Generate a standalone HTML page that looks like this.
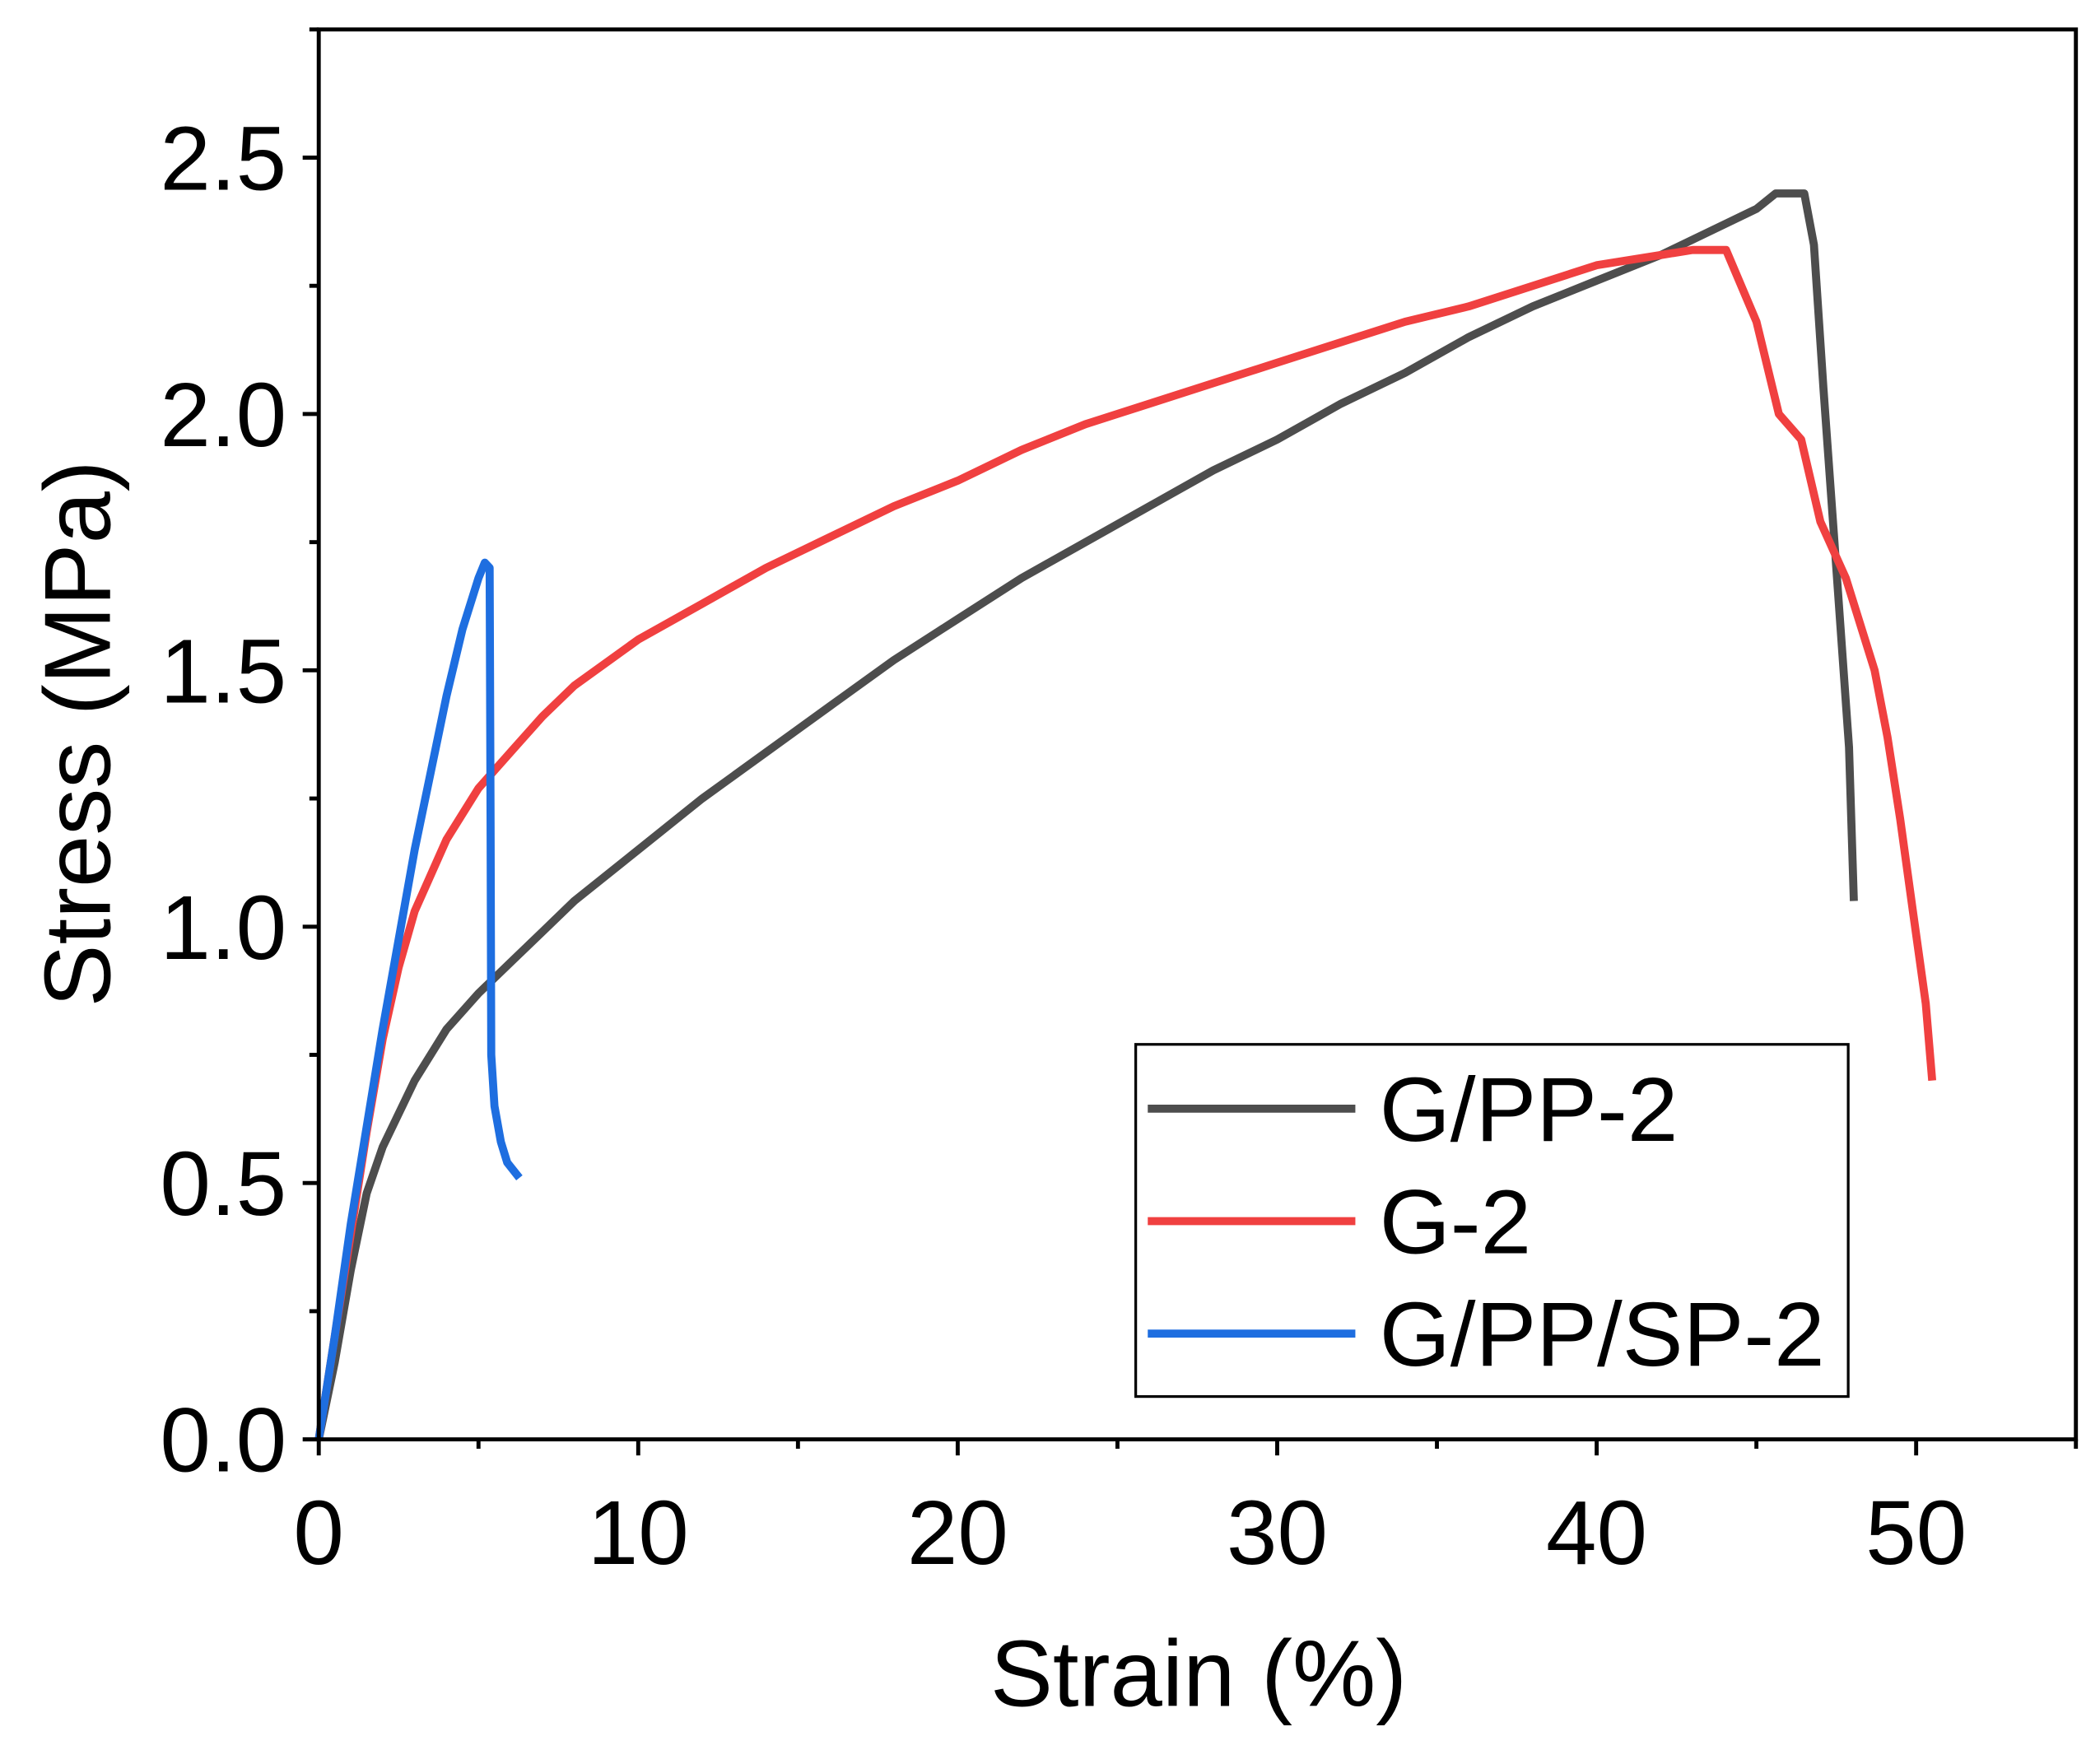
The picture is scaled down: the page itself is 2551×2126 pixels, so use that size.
<!DOCTYPE html>
<html><head><meta charset="utf-8"><style>
html,body{margin:0;padding:0;background:#fff;}
svg{display:block;font-family:"Liberation Sans",Arial,sans-serif;}
</style></head><body>
<svg id="chart" width="2551" height="2126" viewBox="0 0 1568 1307" preserveAspectRatio="none" xmlns="http://www.w3.org/2000/svg">
<g id="series"></g>
<g id="axes"></g>
<g>
<rect x="848" y="780" width="532" height="263" fill="#fff" stroke="#000" stroke-width="2"/>
<line x1="857" y1="828" x2="1012" y2="828" stroke="#4d4d4d" stroke-width="6"/>
<text x="1030" y="852" font-size="68">G/PP-2</text>
<line x1="857" y1="912" x2="1012" y2="912" stroke="#f04040" stroke-width="6"/>
<text x="1030" y="936" font-size="68">G-2</text>
<line x1="857" y1="996" x2="1012" y2="996" stroke="#1e6ee0" stroke-width="6"/>
<text x="1030" y="1020" font-size="68">G/PP/SP-2</text>
</g>
<text x="895" y="1274" font-size="70" text-anchor="middle">Strain (%)</text>
<text transform="translate(82,548) rotate(-90)" font-size="70" text-anchor="middle">Stress (MPa)</text>
</svg>
<script>
const gppX=[0,0.5,1,1.5,2,3,4,5,6,7,8,10,12,14,16,18,20,22,24,26,28,30,32,34,36,38,40,42,44,45,45.6,46.5,46.8,47.1,47.5,47.9,48.05];
const gppY=[0,0.15,0.33,0.48,0.57,0.7,0.8,0.87,0.93,0.99,1.05,1.15,1.25,1.34,1.43,1.52,1.6,1.68,1.75,1.82,1.89,1.95,2.02,2.08,2.15,2.21,2.26,2.31,2.37,2.4,2.43,2.43,2.33,2.05,1.7,1.35,1.05];
const g2X=[0,0.5,1,1.5,2,2.5,3,4,5,6,7,8,10,12,14,16,18,20,22,24,26,28,30,32,34,36,38,40,42,43,44.05,45.0,45.7,46.4,47.0,47.8,48.7,49.1,49.5,49.9,50.3,50.5];
const g2Y=[0,0.2,0.4,0.6,0.78,0.92,1.03,1.17,1.27,1.34,1.41,1.47,1.56,1.63,1.7,1.76,1.82,1.87,1.93,1.98,2.02,2.06,2.1,2.14,2.18,2.21,2.25,2.29,2.31,2.32,2.32,2.18,2.0,1.95,1.79,1.68,1.5,1.37,1.21,1.03,0.85,0.7];
const spX=[0,0.5,1,2,3,4,4.5,5,5.2,5.35,5.38,5.4,5.5,5.7,5.9,6.28];
const spY=[0,0.2,0.42,0.8,1.15,1.45,1.58,1.68,1.71,1.7,1.2,0.75,0.65,0.58,0.54,0.51];
const xTicks=[0,10,20,30,40,50];
const yTicks=[0.0,0.5,1.0,1.5,2.0,2.5];
const yLabels=["0.0","0.5","1.0","1.5","2.0","2.5"];
const L=238,R=1550,T=22,B=1075;
const xs=v=>L+v*(R-L)/55;
const ys=v=>B-v*(B-T)/2.75;
const NS="http://www.w3.org/2000/svg";
const sg=document.getElementById('series');
function line(xa,ya,color,name){
 const p=document.createElementNS(NS,'polyline');
 p.setAttribute('points',xa.map((x,i)=>xs(x).toFixed(1)+','+ys(ya[i]).toFixed(1)).join(' '));
 p.setAttribute('fill','none');p.setAttribute('stroke',color);p.setAttribute('stroke-width','6');
 p.setAttribute('stroke-linejoin','round');
 
 
 sg.appendChild(p);
}
line(gppX,gppY,'#4d4d4d','series-gpp2');
line(g2X,g2Y,'#f04040','series-g2');
line(spX,spY,'#1e6ee0','series-gppsp2');
const ag=document.getElementById('axes');
function el(tag,attrs,name,txt){
 const e=document.createElementNS(NS,tag);
 for(const k in attrs)e.setAttribute(k,attrs[k]);
 
 
 if(txt!==undefined)e.textContent=txt;
 ag.appendChild(e);return e;
}
el('rect',{x:L,y:T,width:R-L,height:B-T,fill:'none',stroke:'#000','stroke-width':3},'plot-frame');
for(let v=0;v<=55;v+=5){
 const maj=v%10===0;
 el('line',{x1:xs(v),y1:B,x2:xs(v),y2:B+(maj?12:7),stroke:'#000','stroke-width':3},'x-tick');
}
xTicks.forEach(v=>el('text',{x:xs(v),y:1168,'font-size':68,'text-anchor':'middle'},'x-tick-label',String(v)));
for(let i=0;i<=11;i++){
 const v=i*0.25,maj=i%2===0;
 el('line',{x1:L,y1:ys(v),x2:L-(maj?12:7),y2:ys(v),stroke:'#000','stroke-width':3},'y-tick');
}
yTicks.forEach((v,i)=>el('text',{x:214,y:ys(v)+24,'font-size':68,'text-anchor':'end'},'y-tick-label',yLabels[i]));
</script>
</body></html>
